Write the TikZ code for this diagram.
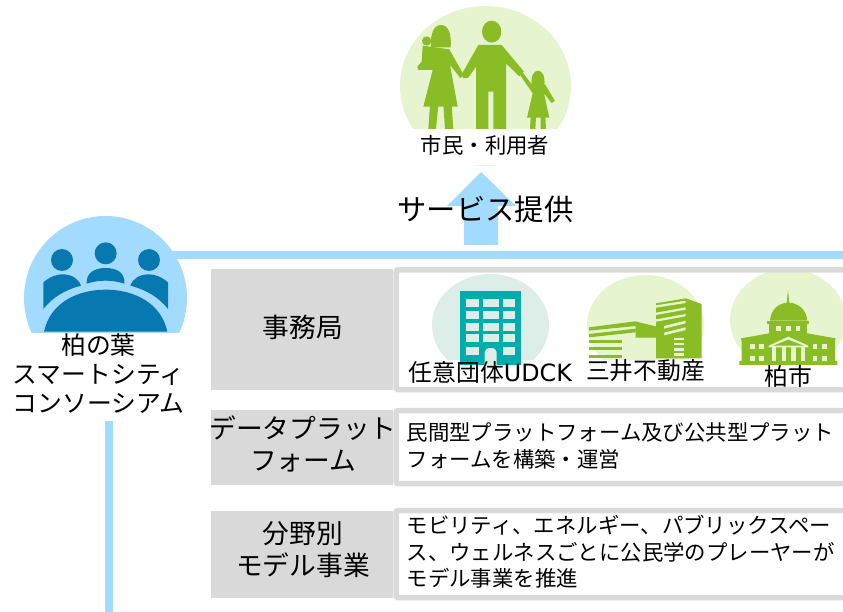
\documentclass[tikz,border=0pt]{standalone}
\usepackage{fontspec}
\setmainfont{Noto Sans CJK JP}
\newfontfamily\latinfont{DejaVu Sans}
\definecolor{lblue}{HTML}{A3DBFF}
\definecolor{dblue}{HTML}{0878B0}
\definecolor{lgreen}{HTML}{E6F4CF}
\definecolor{dgreen}{HTML}{8ABC25}
\definecolor{lteal}{HTML}{DDEDE8}
\definecolor{dteal}{HTML}{00ACAC}
\definecolor{band}{HTML}{D9D9D9}
\definecolor{frameg}{HTML}{DADADA}
\tikzset{
 x=1pt,y=-1pt,
 labelbox/.style={fill=band,draw=none,inner sep=0pt,minimum width=182pt,anchor=north west,text=black},
 panel/.style={draw=frameg,line width=5.5pt,rounded corners=2pt},
 big/.style={font=\fontsize{26.7}{32}\selectfont,align=center,inner sep=0pt},
 mid/.style={font=\fontsize{23.8}{29}\selectfont,align=center,inner sep=0pt},
 body/.style={font=\fontsize{21.4}{26.5}\selectfont,align=left,anchor=west,inner sep=0pt},
 zoomed/.style={xscale=1/3,yscale=1/3},
}
\begin{document}
\begin{tikzpicture}
\useasboundingbox (0,0) rectangle (843,612);
% citizen circle
\fill[lgreen] (485.5,86) ellipse [x radius=85.5,y radius=80];
\fill[white] (395,129) rectangle (580,165);
% people
\begin{scope}[shift={(410,15)},zoomed]
\fill[dgreen] (245,50) ellipse [x radius=29,y radius=33];
\fill[dgreen] (205,90) -- (275,90) -- (342,170) -- (328,184) -- (288,145) -- (288,342) -- (250,342) -- (250,230) -- (235,230) -- (235,342) -- (198,342) -- (198,155) -- (175,188) -- (160,190) -- (155,178) -- cycle;
% woman
\fill[dgreen] (63,97) .. controls (60,55) and (72,30) .. (93,30) .. controls (115,30) and (125,55) .. (122,97) -- cycle;
\fill[dgreen] (50,78) circle [radius=14];
\fill[dgreen] (38,92) -- (118,103) -- (160,178) -- (152,190) -- (120,150) -- (143,275) -- (40,275) -- (68,165) -- (24,165) -- (22,155) -- (35,140) -- cycle;
\fill[dgreen] (60,270) -- (55,342) -- (78,342) -- (85,270) -- cycle;
\fill[dgreen] (100,270) -- (105,342) -- (130,342) -- (125,270) -- cycle;
% child
\fill[dgreen] (365,212) .. controls (362,185) and (370,167) .. (384,167) .. controls (398,167) and (406,185) .. (403,212) -- cycle;
\fill[dgreen] (365,208) -- (405,208) -- (435,258) -- (425,264) -- (402,235) -- (418,308) -- (351,308) -- (368,235) -- (330,180) -- (338,172) -- cycle;
\fill[dgreen] (362,305) -- (360,342) -- (376,342) -- (378,305) -- cycle;
\fill[dgreen] (392,305) -- (392,342) -- (408,342) -- (406,305) -- cycle;
\end{scope}
\node[font=\fontsize{21.4}{26}\selectfont,inner sep=0pt] (citizens) at (485,145) {市民・利用者};
% arrow
\fill[lblue] (481,172) -- (516,206) -- (498,206) -- (498,245) -- (464,245) -- (464,206) -- (447,206) -- cycle;
\node[font=\fontsize{29.3}{34}\selectfont,inner sep=0pt] (service) at (485.5,209) {サービス提供};
% blue lines
\fill[lblue] (172,251) rectangle (843,259);
\fill[lblue] (105,421) rectangle (113,612);
\fill[lblue!15] (113,610.5) rectangle (843,612);
% consortium circle
\fill[lblue] (105.5,298) ellipse [x radius=81.5,y radius=82];
\fill[white] (20,333) rectangle (190,385);
\begin{scope}[shift={(30,235)},zoomed]
\fill[dblue] (96,75) circle [radius=33];
\fill[dblue] (227,55) circle [radius=33];
\fill[dblue] (357,75) circle [radius=33];
\fill[dblue] (170,146) .. controls (168,112) and (195,99) .. (227,99) .. controls (259,99) and (286,112) .. (283,146) .. controls (245,134) and (208,134) .. cycle;
\fill[dblue] (40,222) -- (40,142) .. controls (60,125) and (80,118) .. (97,118) .. controls (125,118) and (145,130) .. (153,152) .. controls (105,165) and (70,185) .. cycle;
\fill[dblue] (414,222) -- (414,142) .. controls (394,125) and (374,118) .. (357,118) .. controls (329,118) and (309,130) .. (301,152) .. controls (349,165) and (384,185) .. cycle;
\fill[dblue] (42,290) .. controls (60,205) and (140,164) .. (227,164) .. controls (314,164) and (394,205) .. (412,290) -- cycle;
\end{scope}
\node[mid,font=\fontsize{24.8}{29}\selectfont] (consortium) at (98.5,374) {柏の葉\\スマートシティ\\コンソーシアム};
% row 1
\node[labelbox,minimum height=121pt] (office) at (211,269) {};
\node[big] (officet) at (303,327) {事務局};
\fill[lteal] (490.5,325) ellipse [x radius=58.5,y radius=51];
\fill[lgreen] (645.5,325) ellipse [x radius=58.5,y radius=50];
\fill[lgreen] (788,320) ellipse [x radius=58,y radius=51];
\fill[white] (425,360) rectangle (843,388);
\draw[panel] (396,270) rectangle (855,389.5);
% teal building
\begin{scope}[shift={(400,260)},zoomed]
\fill[dteal] (180,93) rectangle (363,315);
\foreach \r/\h in {117/24,153/24,189/24,223/24}{
 \fill[lteal] (198,\r) rectangle (236,\r+\h);
 \fill[lteal] (248,\r) rectangle (296,\r+\h);
 \fill[lteal] (308,\r) rectangle (346,\r+\h);
}
\fill[lteal] (198,260) rectangle (236,284);
\fill[lteal] (308,260) rectangle (346,284);
\fill[lteal] (254,315) -- (254,276) .. controls (254,268) and (262,264) .. (272,264) .. controls (282,264) and (290,268) .. (290,276) -- (290,315) -- cycle;
\end{scope}
% Mitsui building
\begin{scope}[shift={(580,290)},zoomed]
\fill[dgreen] (228,40) -- (317,25) -- (365,42) -- (365,205) -- (228,205) -- cycle;
\foreach \a/\b in {46/32,68/52,88/72}{
 \fill[lgreen] (228,\a) -- (317,\b) -- (317,\b+7) -- (228,\a+7) -- cycle;
}
\fill[lgreen] (252,108) -- (317,92) -- (317,100) -- (252,116) -- cycle;
\fill[lgreen] (252,128) -- (317,112) -- (317,120) -- (252,136) -- cycle;
\fill[lgreen] (282,143) rectangle (312,150);
\fill[lgreen] (282,158) rectangle (312,165);
\fill[lgreen] (282,175) rectangle (312,182);
\fill[lgreen] (282,190) rectangle (312,198);
\fill[dgreen] (27,112) -- (165,94) -- (252,115) -- (252,150) -- (228,150) -- (228,143) -- (167,143) -- (167,108) -- (27,122) -- cycle;
\fill[dgreen] (27,132) -- (167,116) -- (167,127) -- (27,142) -- cycle;
\fill[dgreen] (27,150) rectangle (125,158);
\fill[dgreen] (27,172) rectangle (125,180);
\fill[dgreen] (27,196) rectangle (125,204);
\end{scope}
% city hall
\begin{scope}[shift={(730,280)},zoomed]
\fill[dgreen] (174,30) -- (178,70) -- (170,70) -- cycle;
\fill[dgreen] (120,122) .. controls (122,90) and (145,68) .. (175,68) .. controls (205,68) and (230,90) .. (232,122) -- cycle;
\fill[dgreen] (112,122) rectangle (237,132);
\fill[dgreen] (118,130) rectangle (232,170);
\fill[dgreen] (33,175) -- (118,160) -- (232,160) -- (317,175) -- (315,185) -- (315,243) -- (322,243) -- (322,255) -- (28,255) -- (28,243) -- (35,243) -- (35,185) -- cycle;
\foreach \x in {139,168,197}{\fill[lgreen] (\x,137) rectangle (\x+14,153);}
\foreach \x in {60,87,248,276}{
 \fill[lgreen] (\x,192) rectangle (\x+14,208);
 \fill[lgreen] (\x,227) rectangle (\x+14,243);
}
\fill[lgreen] (116,197) -- (175,170) -- (235,197) -- (235,202) -- (116,202) -- cycle;
\fill[dgreen] (130,197) -- (175,179) -- (221,197) -- cycle;
\foreach \x in {126,155,184,212}{\fill[lgreen] (\x,202) rectangle (\x+13,243);}
\end{scope}
\node[mid,anchor=west] (udck) at (408.5,372) {任意団体{\latinfont UDCK}};
\node[mid] (mitsui) at (645.5,371) {三井不動産};
\node[mid] (kashiwa) at (788,376) {柏市};
% row 2
\node[labelbox,minimum height=75pt] (data) at (211,410) {};
\draw[panel] (396,410.5) rectangle (855,483.5);
\node[big] (datat) at (303,444) {データプラット\\フォーム};
\node[body] (datab) at (406.5,446) {民間型プラットフォーム及び公共型プラット\\フォームを構築・運営};
% row 3
\node[labelbox,minimum height=87pt] (model) at (211,511) {};
\draw[panel] (396,510.5) rectangle (855,597.5);
\node[big] (modelt) at (303,550) {分野別\\モデル事業};
\node[body] (modelb) at (406.5,552) {モビリティ、エネルギー、パブリックスペー\\ス、ウェルネスごとに公民学のプレーヤーが\\モデル事業を推進};
\end{tikzpicture}
\end{document}
